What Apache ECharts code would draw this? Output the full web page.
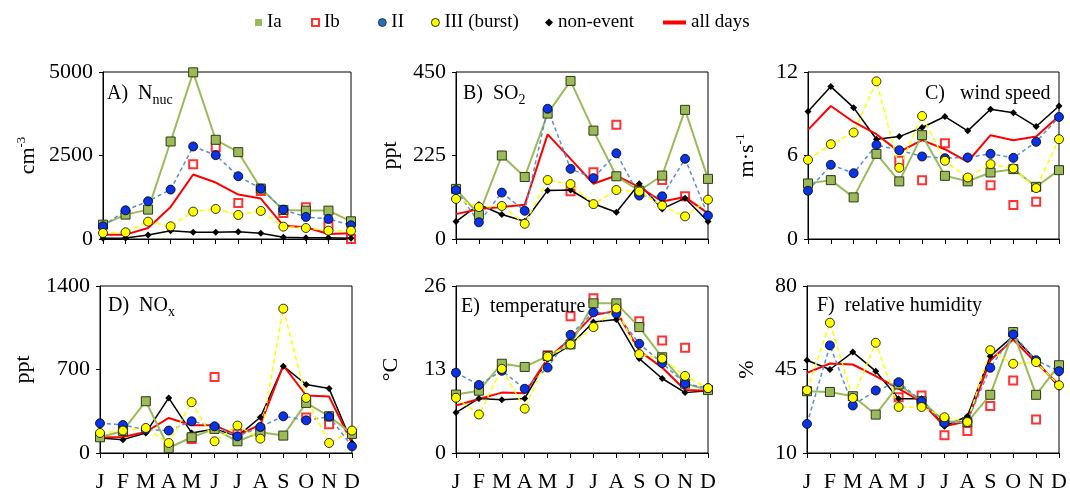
<!DOCTYPE html>
<html>
<head>
<meta charset="utf-8">
<script src="https://cdn.jsdelivr.net/npm/echarts@6/dist/echarts.min.js"></script>
<style>
  html, body { margin: 0; padding: 0; background: #fff; }
  #chart { width: 1070px; height: 494px; }
</style>
</head>
<body>
<div id="chart"></div>
<script>
// Month categories
const months = ['J', 'F', 'M', 'A', 'M', 'J', 'J', 'A', 'S', 'O', 'N', 'D'];

// Event classes
const classNames = ['Ia', 'Ib', 'II', 'III (burst)', 'non-event', 'all days'];

// A) nucleation-mode particle number (cm-3)
const nucTicks = [0, 2500, 5000];
const nucIa  = [430, 730, 880, 2920, 4990, 2970, 2600, 1510, 870, 850, 850, 530];
const nucIb  = [null, null, null, null, 2240, 2750, 1080, 1440, 780, 950, 380, 0];
const nucII  = [380, 860, 1130, 1480, 2770, 2510, 1880, 1510, 880, 660, 600, 410];
const nucIII = [180, 200, 520, 380, 820, 900, 720, 840, 370, 330, 250, 250];
const nucNon = [20, 30, 120, 250, 200, 200, 220, 170, 50, 40, 40, 20];
const nucAll = [130, 130, 330, 960, 1930, 1690, 1330, 1210, 400, 350, 150, 170];

// B) SO2 (ppt)
const so2Ticks = [0, 225, 450];
const so2Ia  = [135, 65, 225, 167, 338, 426, 292, 169, 130, 171, 348, 162];
const so2Ib  = [null, null, null, null, null, 129, 180, 308, 128, 159, 115, null];
const so2II  = [132, 45, 125, 76, 351, 189, 164, 231, 117, 115, 216, 63];
const so2III = [108, 86, 89, 41, 159, 148, 94, 132, 128, 90, 61, 106];
const so2Non = [47, 93, 66, 48, 131, 132, 95, 72, 149, 81, 110, 47];
const so2All = [67, 81, 86, 92, 282, 216, 149, 171, 140, 101, 113, 69];

// C) wind speed (m s-1)
const windTicks = [0, 6, 12];
const windIa  = [3.99, 4.23, 2.99, 6.12, 4.14, 7.46, 4.54, 4.14, 4.78, 5.02, 3.75, 4.95];
const windIb  = [null, null, null, null, 5.62, 4.23, 6.88, 4.26, 3.87, 2.44, 2.68, null];
const windII  = [3.47, 5.33, 4.73, 6.76, 6.38, 5.93, 5.81, 5.86, 6.12, 5.83, 6.98, 8.77];
const windIII = [5.69, 6.81, 7.65, 11.33, 5.12, 8.84, 5.62, 4.42, 5.38, 5.07, 3.66, 7.17];
const windNon = [9.16, 10.95, 9.44, 7.17, 7.36, 8.01, 8.80, 7.77, 9.32, 9.08, 8.08, 9.56];
const windAll = [7.84, 9.56, 8.41, 7.53, 6.26, 7.10, 6.45, 5.55, 7.46, 7.10, 7.36, 8.84];

// D) NOx (ppt)
const noxTicks = [0, 700, 1400];
const noxIa  = [132, 185, 434, 42, 132, 202, 98, 174, 146, 420, 308, 160];
const noxIb  = [null, null, null, null, 118, 638, 162, 182, null, 297, 241, null];
const noxII  = [249, 235, 196, 188, 266, 224, 140, 218, 308, 274, 305, 56];
const noxIII = [168, 188, 210, 84, 426, 98, 230, 120, 1210, 462, 84, 188];
const noxNon = [126, 112, 168, 462, 168, 202, 140, 300, 728, 574, 540, 84];
const noxAll = [132, 134, 176, 294, 232, 232, 148, 238, 734, 482, 473, 84];

// E) temperature (°C)
const tempTicks = [0, 13, 26];
const tempIa  = [9.1, 9.7, 13.9, 13.4, 15.1, 16.9, 23.3, 23.3, 19.6, 14.9, 10.8, 9.8];
const tempIb  = [null, null, null, null, 15.2, 21.3, 24.1, 22.6, 20.5, 17.5, 16.4, null];
const tempII  = [12.5, 10.6, 12.8, 10.0, 13.3, 18.4, 21.9, 21.7, 17.0, 14.0, 10.8, 10.1];
const tempIII = [8.6, 6.0, 13.1, 6.9, 15.0, 16.9, 19.6, 22.5, 15.4, 14.7, 12.0, 10.1];
const tempNon = [6.3, 8.5, 8.3, 8.5, 14.6, 16.8, 20.4, 20.8, 14.7, 11.6, 9.4, 9.7];
const tempAll = [7.4, 8.4, 9.4, 9.3, 14.7, 17.8, 21.5, 22.1, 15.9, 13.3, 9.8, 9.7];

// F) relative humidity (%)
const rhTicks = [10, 45, 80];
const rhIa  = [35.9, 35.6, 33.8, 26.1, 38.7, 31.7, 23.3, 22.9, 34.4, 60.7, 34.4, 46.8];
const rhIb  = [null, null, null, null, 33.4, 34.1, 17.4, 19.2, 29.7, 40.4, 24.0, null];
const rhII  = [22.2, 55.1, 29.9, 36.2, 39.7, 31.7, 22.6, 23.3, 45.7, 59.7, 48.9, 44.3];
const rhIII = [36.3, 64.6, 33.1, 56.2, 29.3, 29.3, 25.0, 23.0, 53.1, 47.4, 48.1, 38.4];
const rhNon = [48.9, 45.0, 52.3, 44.3, 32.7, 32.7, 21.2, 25.4, 50.6, 59.0, 48.9, 37.6];
const rhAll = [43.6, 47.5, 47.1, 42.2, 37.0, 31.4, 21.2, 23.3, 48.8, 57.6, 47.8, 38.7];

const FONT = "'Liberation Serif', 'Times New Roman', serif";
const C_IA = '#9BBB59', C_IB = '#FF0000', C_II = '#0A32E6', C_II_LINE = '#5B8FD0';
const C_III = '#FFFF00', C_NON = '#000000', C_ALL = '#FF0000';

// Panel layout: grid rectangle, y-axis title and panel label
const panels = [
  { grid: { left: 103, top: 72, width: 248, height: 167 }, ticks: nucTicks, unit: 'cm{sup|-3}', gap: 62,
    label: 'A)  N{sub|nuc}', lpos: { left: 107, top: 81 }, xLabels: false,
    data: [nucIa, nucIb, nucII, nucIII, nucNon, nucAll] },
  { grid: { left: 456, top: 72, width: 252, height: 167 }, ticks: so2Ticks, unit: 'ppt', gap: 53,
    label: 'B)  SO{sub|2}', lpos: { left: 463, top: 81 }, xLabels: false,
    data: [so2Ia, so2Ib, so2II, so2III, so2Non, so2All] },
  { grid: { left: 808, top: 72, width: 251, height: 167 }, ticks: windTicks, unit: 'm·s{sup|-1}', gap: 48,
    label: 'C)   wind speed', lpos: { left: 925, top: 81 }, xLabels: false,
    data: [windIa, windIb, windII, windIII, windNon, windAll] },
  { grid: { left: 100, top: 286, width: 252, height: 167 }, ticks: noxTicks, unit: 'ppt', gap: 64,
    label: 'D)  NO{sub|x}', lpos: { left: 108, top: 293 }, xLabels: true,
    data: [noxIa, noxIb, noxII, noxIII, noxNon, noxAll] },
  { grid: { left: 456, top: 286, width: 252, height: 167 }, ticks: tempTicks, unit: '°C', gap: 52,
    label: 'E)  temperature', lpos: { left: 461, top: 294 }, xLabels: true,
    data: [tempIa, tempIb, tempII, tempIII, tempNon, tempAll] },
  { grid: { left: 807, top: 286, width: 252, height: 167 }, ticks: rhTicks, unit: '%', gap: 47,
    label: 'F)  relative humidity', lpos: { left: 817, top: 293 }, xLabels: true,
    data: [rhIa, rhIb, rhII, rhIII, rhNon, rhAll] }
];

const grids = [], xAxes = [], yAxes = [], series = [], titles = [];

panels.forEach((p, i) => {
  grids.push(Object.assign({ show: true, borderColor: '#000', borderWidth: 1, backgroundColor: 'transparent' }, p.grid));
  xAxes.push({
    type: 'category', gridIndex: i, data: months, boundaryGap: false,
    axisLine: { lineStyle: { color: '#000', width: 1 } },
    axisTick: { show: true, length: 5, interval: 0, lineStyle: { color: '#000' } },
    axisLabel: { show: p.xLabels, interval: 0, hideOverlap: false, color: '#000', fontFamily: FONT, fontSize: 22, margin: 18 },
    splitLine: { show: false }
  });
  const t = p.ticks;
  yAxes.push({
    type: 'value', gridIndex: i, min: t[0], max: t[t.length - 1], interval: t[1] - t[0],
    name: p.unit, nameLocation: 'middle', nameRotate: 90, nameGap: p.gap,
    nameTextStyle: {
      color: '#000', fontFamily: FONT, fontSize: 22, lineHeight: 26,
      rich: { sup: { fontFamily: FONT, fontSize: 13, lineHeight: 18, verticalAlign: 'top', color: '#000' } }
    },
    axisLine: { show: true, lineStyle: { color: '#000', width: 1 } },
    axisTick: { show: true, length: 4, lineStyle: { color: '#000' } },
    axisLabel: { color: '#000', fontFamily: FONT, fontSize: 22, margin: 10, formatter: v => String(v) },
    splitLine: { show: false }
  });
  titles.push({
    text: p.label, left: p.lpos.left, top: p.lpos.top, padding: 0,
    textStyle: {
      color: '#000', fontFamily: FONT, fontSize: 20, fontWeight: 'normal', lineHeight: 26,
      rich: { sub: { fontFamily: FONT, fontSize: 14, lineHeight: 14, verticalAlign: 'bottom', color: '#000' } }
    }
  });

  const [dIa, dIb, dII, dIII, dNon, dAll] = p.data;
  const ax = { xAxisIndex: i, yAxisIndex: i, animation: false };
  series.push(Object.assign({
    name: 'non-event', type: 'line', data: dNon, symbol: 'diamond', symbolSize: 7,
    itemStyle: { color: C_NON },
    lineStyle: { color: C_NON, width: 1.5 }
  }, ax));
  series.push(Object.assign({
    name: 'all days', type: 'line', data: dAll, showSymbol: false, symbol: 'none',
    itemStyle: { color: C_ALL },
    lineStyle: { color: C_ALL, width: 2 }
  }, ax));
  series.push(Object.assign({
    name: 'Ia', type: 'line', data: dIa, symbol: 'rect', symbolSize: 9,
    itemStyle: { color: C_IA, borderColor: '#2E3A17', borderWidth: 1 },
    lineStyle: { color: C_IA, width: 2 }
  }, ax));
  series.push(Object.assign({
    name: 'II', type: 'line', data: dII, symbol: 'circle', symbolSize: 9,
    itemStyle: { color: C_II, borderColor: '#000', borderWidth: 0.8 },
    lineStyle: { color: C_II_LINE, width: 1.5, type: [4, 3] }
  }, ax));
  series.push(Object.assign({
    name: 'III (burst)', type: 'line', data: dIII, symbol: 'circle', symbolSize: 9,
    itemStyle: { color: C_III, borderColor: '#000', borderWidth: 0.8 },
    lineStyle: { color: C_III, width: 1.5, type: [5, 3] }
  }, ax));
  series.push(Object.assign({
    name: 'Ib', type: 'scatter', data: dIb, symbol: 'rect', symbolSize: 8,
    itemStyle: { color: '#fff', borderColor: C_IB, borderWidth: 2 }
  }, ax));
});

// One legend block per class so each icon keeps its own size and place
const legendText = { color: '#000', fontFamily: FONT, fontSize: 19 };
const legendItems = [
  { left: 255, w: 7, h: 7, item: { name: 'Ia', icon: 'rect', itemStyle: { color: '#9BBB59', borderWidth: 0 } } },
  { left: 311, w: 7, h: 7, item: { name: 'Ib', icon: 'rect', itemStyle: { color: '#fff', borderColor: '#FF0000', borderWidth: 2 } } },
  { left: 378, w: 8, h: 8, item: { name: 'II', icon: 'circle', itemStyle: { color: '#2A6EBB', borderColor: '#000', borderWidth: 0.6 } } },
  { left: 431, w: 8, h: 8, item: { name: 'III (burst)', icon: 'circle', itemStyle: { color: '#FFFF00', borderColor: '#000', borderWidth: 0.8 } } },
  { left: 545, w: 8, h: 8, item: { name: 'non-event', icon: 'diamond', itemStyle: { color: '#000', borderWidth: 0 } } },
  { left: 663, w: 23, h: 4, item: { name: 'all days', icon: 'rect', itemStyle: { color: '#FF0000', borderWidth: 0 } } }
];
const legends = legendItems.map(l => ({
  show: true, left: l.left, top: 13, padding: 0, orient: 'horizontal',
  itemWidth: l.w, itemHeight: l.h, itemGap: 0, selectedMode: false,
  textStyle: legendText, data: [l.item]
}));

const chart = echarts.init(document.getElementById('chart'), null, { renderer: 'canvas' });
chart.setOption({
  backgroundColor: '#fff',
  animation: false,
  textStyle: { fontFamily: FONT },
  title: titles,
  legend: legends,
  grid: grids,
  xAxis: xAxes,
  yAxis: yAxes,
  series: series
});
</script>
</body>
</html>
